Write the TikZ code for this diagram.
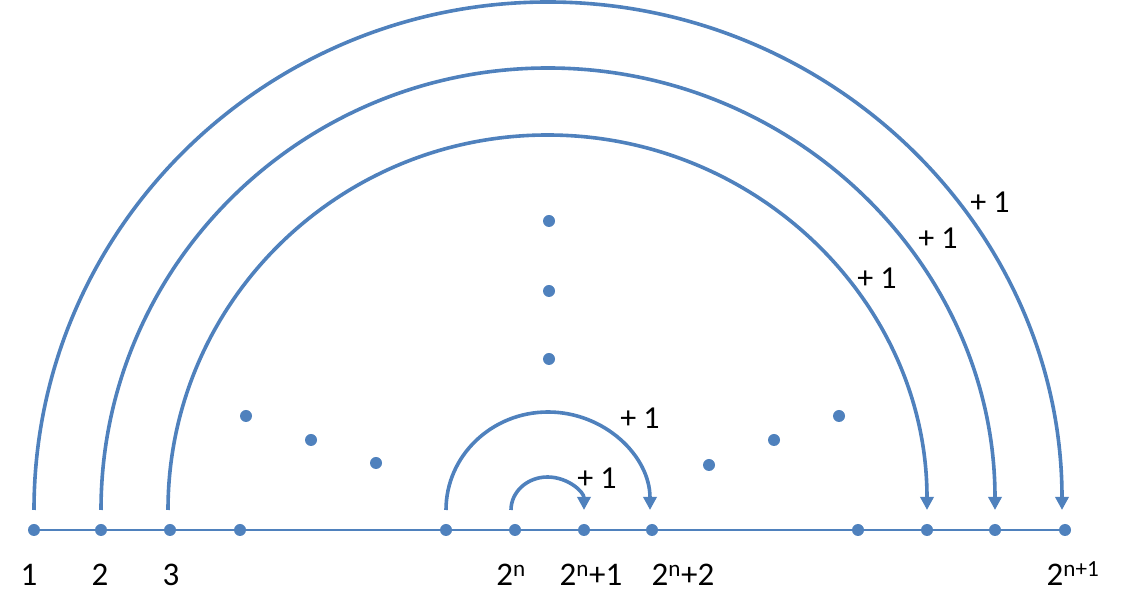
\documentclass[tikz,border=0pt]{standalone}
\usepackage{fontspec}
\setmainfont{Carlito}
\usetikzlibrary{arrows.meta}
\definecolor{ob}{HTML}{4F81BD}
\begin{document}
\begin{tikzpicture}[x=1pt,y=1pt,
  dot/.style={circle,fill=ob,inner sep=0pt,minimum size=12pt},
  jump/.style={draw=ob,line width=3.6pt,-{Triangle[length=13pt,width=13pt]}},
  axis/.style={draw=ob,line width=2.4pt},
  plab/.style={font=\fontsize{32}{36}\selectfont,inner sep=0pt},
  blab/.style={font=\fontsize{33}{36}\selectfont,inner sep=0pt,anchor=base}]
\useasboundingbox (0,0) rectangle (1127,615);
% axis dots
\foreach \n/\x in {1/34,2/101,3/170,4/240,5/446,6/515,7/584,8/652,9/858,10/927,11/995,12/1065}
  \node[dot] (d\n) at (\x,85) {};
\draw[axis] (d1.center) -- (d12.center);
% scattered dots
\foreach \n/\x/\y in {a/549/394,b/549/324,c/549/256,e/246/199,f/311/175,g/376/152,h/709/150,i/774/175,j/839/199}
  \node[dot] (s\n) at (\x,\y) {};
% arc endpoints
\coordinate (o1) at (34,105);
\coordinate (o2) at (101,105);
\coordinate (o3) at (168,105);
\coordinate (o4) at (446,105);
\coordinate (o5) at (511,105);
% arcs
\draw[jump] (o1) arc[start angle=180,end angle=0,x radius=514,y radius=508];
\draw[jump] (o2) arc[start angle=180,end angle=0,x radius=447,y radius=442];
\draw[jump] (o3) arc[start angle=180,end angle=0,x radius=379.5,y radius=375];
\draw[jump] (o4) arc[start angle=180,end angle=0,x radius=102,y radius=98];
\draw[jump] (o5) arc[start angle=180,end angle=0,x radius=36.5,y radius=33];
% +1 labels
\node[plab] (p1) at (597,137) {+ 1};
\node[plab] (p2) at (640,197) {+ 1};
\node[plab] (p3) at (877,337) {+ 1};
\node[plab] (p4) at (938,377) {+ 1};
\node[plab] (p5) at (990,413) {+ 1};
% bottom labels
\node[blab] (l1) at (29,29) {1};
\node[blab] (l2) at (100,29) {2};
\node[blab] (l3) at (171,29) {3};
\node[blab] (l4) at (511,29) {2\textsuperscript{n}};
\node[blab] (l5) at (591,29) {2\textsuperscript{n}+1};
\node[blab] (l6) at (683,29) {2\textsuperscript{n}+2};
\node[blab] (l7) at (1073,29) {2\textsuperscript{n+1}};
\end{tikzpicture}
\end{document}
